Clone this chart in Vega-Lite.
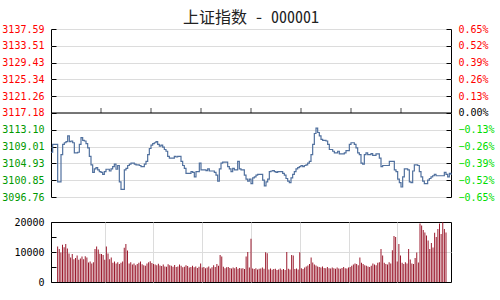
{
"$schema": "https://vega.github.io/schema/vega-lite/v6.json",
"padding": {"left": 1, "top": 9, "right": 0, "bottom": 0},
"bounds": "flush",
"spacing": 25,
"title": {"text": "上证指数 - 000001", "font": "Noto Sans Mono CJK SC, Noto Sans CJK SC", "fontSize": 16, "fontWeight": "normal", "color": "#222222", "anchor": "middle", "frame": "group", "offset": -2},
"config": {"view": {"stroke": "#000000", "strokeWidth": 1}, "axis": {"labelFont": "DejaVu Sans Mono", "labelFontSize": 10, "gridColor": "#dcdcdc", "domain": false, "title": null, "labelFlush": false, "labelOverlap": false}},
"data": {"values": [
{"t":0,"p":3107.64},{"t":1,"p":3109.54,"v":11800},{"t":2,"p":3109.54,"v":11000},{"t":3,"p":3109.54,"v":9800},{"t":4,"p":3100.43,"v":12400},{"t":5,"p":3100.43,"v":11600},{"t":6,"p":3107.06,"v":12700},{"t":7,"p":3109.54,"v":11200},{"t":8,"p":3109.95,"v":9500},{"t":9,"p":3110.20,"v":8200},{"t":10,"p":3111.61,"v":9300},
{"t":11,"p":3110.20,"v":7600},{"t":12,"p":3110.37,"v":8000},{"t":13,"p":3109.95,"v":8800},{"t":14,"p":3107.47,"v":7400},{"t":15,"p":3107.47,"v":7800},{"t":16,"p":3107.64,"v":8500},{"t":17,"p":3109.54,"v":7600},{"t":18,"p":3111.20,"v":8600},{"t":19,"p":3110.53,"v":8200},{"t":20,"p":3110.37,"v":6500},
{"t":21,"p":3109.71,"v":6800},{"t":22,"p":3108.71,"v":6200},{"t":23,"p":3106.64,"v":6600},{"t":24,"p":3104.57,"v":11000},{"t":25,"p":3102.75,"v":11800},{"t":26,"p":3103.58,"v":10800},{"t":27,"p":3103.91,"v":9400},{"t":28,"p":3103.33,"v":9300},{"t":29,"p":3102.92,"v":9000},{"t":30,"p":3102.75,"v":7400},
{"t":31,"p":3102.25,"v":11800},{"t":32,"p":3102.92,"v":9500},{"t":33,"p":3103.50,"v":7600},{"t":34,"p":3103.50,"v":8200},{"t":35,"p":3103.08,"v":6400},{"t":36,"p":3103.58,"v":6800},{"t":37,"p":3104.16,"v":6200},{"t":38,"p":3104.74,"v":6600},{"t":39,"p":3103.50,"v":6000},{"t":40,"p":3104.41,"v":6400},
{"t":41,"p":3100.43,"v":6800},{"t":42,"p":3098.61,"v":11400},{"t":43,"p":3098.61,"v":12700},{"t":44,"p":3103.33,"v":10500},{"t":45,"p":3103.74,"v":6200},{"t":46,"p":3104.41,"v":6600},{"t":47,"p":3104.74,"v":5800},{"t":48,"p":3104.99,"v":6200},{"t":49,"p":3104.99,"v":5600},{"t":50,"p":3104.74,"v":6000},
{"t":51,"p":3104.57,"v":6400},{"t":52,"p":3104.57,"v":6800},{"t":53,"p":3104.41,"v":5900},{"t":54,"p":3104.16,"v":5600},{"t":55,"p":3104.16,"v":5400},{"t":56,"p":3104.74,"v":6200},{"t":57,"p":3105.40,"v":6600},{"t":58,"p":3107.06,"v":6900},{"t":59,"p":3108.55,"v":6300},{"t":60,"p":3109.37,"v":6000},
{"t":61,"p":3109.71,"v":5800},{"t":62,"p":3109.95,"v":5600},{"t":63,"p":3110.20,"v":6100},{"t":64,"p":3109.54,"v":5500},{"t":65,"p":3109.13,"v":5300},{"t":66,"p":3109.37,"v":5800},{"t":67,"p":3108.88,"v":5200},{"t":68,"p":3108.30,"v":5100},{"t":69,"p":3107.88,"v":5900},{"t":70,"p":3106.64,"v":5600},
{"t":71,"p":3106.23,"v":5400},{"t":72,"p":3106.23,"v":5100},{"t":73,"p":3106.23,"v":5700},{"t":74,"p":3106.64,"v":5000},{"t":75,"p":3106.48,"v":5200},{"t":76,"p":3106.64,"v":5800},{"t":77,"p":3106.64,"v":5400},{"t":78,"p":3105.40,"v":4900},{"t":79,"p":3104.41,"v":5100},{"t":80,"p":3103.74,"v":5600},
{"t":81,"p":3102.50,"v":5300},{"t":82,"p":3102.50,"v":4800},{"t":83,"p":3102.50,"v":5000},{"t":84,"p":3102.92,"v":5400},{"t":85,"p":3102.75,"v":4900},{"t":86,"p":3101.67,"v":5200},{"t":87,"p":3102.92,"v":4700},{"t":88,"p":3102.92,"v":5100},{"t":89,"p":3104.99,"v":6200},{"t":90,"p":3103.33,"v":4800},
{"t":91,"p":3103.33,"v":5000},{"t":92,"p":3103.33,"v":4600},{"t":93,"p":3103.16,"v":4800},{"t":94,"p":3103.58,"v":5200},{"t":95,"p":3103.08,"v":4500},{"t":96,"p":3103.08,"v":4900},{"t":97,"p":3103.08,"v":5600},{"t":98,"p":3102.75,"v":5000},{"t":99,"p":3102.09,"v":6000},{"t":100,"p":3100.60,"v":5400},
{"t":101,"p":3103.58,"v":9000},{"t":102,"p":3104.99,"v":8500},{"t":103,"p":3105.23,"v":5100},{"t":104,"p":3105.23,"v":4600},{"t":105,"p":3105.23,"v":4900},{"t":106,"p":3104.16,"v":5000},{"t":107,"p":3103.58,"v":4700},{"t":108,"p":3102.92,"v":4500},{"t":109,"p":3103.74,"v":4800},{"t":110,"p":3103.33,"v":4600},
{"t":111,"p":3103.33,"v":5000},{"t":112,"p":3105.40,"v":4400},{"t":113,"p":3103.58,"v":4700},{"t":114,"p":3103.33,"v":4500},{"t":115,"p":3103.33,"v":4600},{"t":116,"p":3102.09,"v":4300},{"t":117,"p":3101.09,"v":8500},{"t":118,"p":3100.60,"v":10000},{"t":119,"p":3101.09,"v":4800},{"t":120,"p":3100.02,"v":14400},
{"t":121,"p":3101.43,"v":4500},{"t":122,"p":3101.67,"v":4300},{"t":123,"p":3102.09,"v":4600},{"t":124,"p":3102.25,"v":4200},{"t":125,"p":3102.25,"v":4400},{"t":126,"p":3102.25,"v":4500},{"t":127,"p":3100.85,"v":4800},{"t":128,"p":3099.44,"v":4400},{"t":129,"p":3100.43,"v":9900},{"t":130,"p":3101.09,"v":9600},
{"t":131,"p":3102.92,"v":4200},{"t":132,"p":3103.08,"v":4500},{"t":133,"p":3103.16,"v":4100},{"t":134,"p":3102.92,"v":4300},{"t":135,"p":3102.75,"v":4400},{"t":136,"p":3102.92,"v":4000},{"t":137,"p":3102.92,"v":4200},{"t":138,"p":3102.92,"v":4500},{"t":139,"p":3102.50,"v":4100},{"t":140,"p":3102.09,"v":4300},
{"t":141,"p":3101.26,"v":4000},{"t":142,"p":3100.60,"v":10000},{"t":143,"p":3100.27,"v":4400},{"t":144,"p":3101.43,"v":4200},{"t":145,"p":3102.25,"v":9000},{"t":146,"p":3102.92,"v":8800},{"t":147,"p":3103.58,"v":4300},{"t":148,"p":3103.91,"v":4500},{"t":149,"p":3104.16,"v":4200},{"t":150,"p":3104.41,"v":9900},
{"t":151,"p":3104.16,"v":4600},{"t":152,"p":3104.41,"v":4300},{"t":153,"p":3104.57,"v":4800},{"t":154,"p":3104.99,"v":5200},{"t":155,"p":3105.40,"v":5500},{"t":156,"p":3107.06,"v":6000},{"t":157,"p":3109.54,"v":8200},{"t":158,"p":3112.19,"v":6500},{"t":159,"p":3113.51,"v":5800},{"t":160,"p":3112.44,"v":5500},
{"t":161,"p":3111.61,"v":5200},{"t":162,"p":3110.78,"v":5000},{"t":163,"p":3110.53,"v":4800},{"t":164,"p":3110.53,"v":5200},{"t":165,"p":3110.37,"v":4700},{"t":166,"p":3109.54,"v":4600},{"t":167,"p":3108.30,"v":5000},{"t":168,"p":3108.30,"v":4600},{"t":169,"p":3107.88,"v":4500},{"t":170,"p":3107.47,"v":4800},
{"t":171,"p":3107.47,"v":4600},{"t":172,"p":3107.88,"v":4400},{"t":173,"p":3107.22,"v":4800},{"t":174,"p":3107.22,"v":4500},{"t":175,"p":3107.22,"v":4400},{"t":176,"p":3107.47,"v":4700},{"t":177,"p":3108.05,"v":5000},{"t":178,"p":3108.05,"v":4600},{"t":179,"p":3109.54,"v":4500},{"t":180,"p":3109.95,"v":4800},
{"t":181,"p":3109.95,"v":5000},{"t":182,"p":3109.54,"v":5400},{"t":183,"p":3108.71,"v":5800},{"t":184,"p":3107.47,"v":6200},{"t":185,"p":3107.06,"v":6000},{"t":186,"p":3104.99,"v":5600},{"t":187,"p":3104.74,"v":8200},{"t":188,"p":3107.06,"v":6400},{"t":189,"p":3107.47,"v":6000},{"t":190,"p":3107.06,"v":5600},
{"t":191,"p":3107.06,"v":5400},{"t":192,"p":3107.30,"v":5200},{"t":193,"p":3106.89,"v":5000},{"t":194,"p":3106.89,"v":5400},{"t":195,"p":3107.22,"v":6200},{"t":196,"p":3107.22,"v":5800},{"t":197,"p":3106.23,"v":5600},{"t":198,"p":3104.16,"v":6400},{"t":199,"p":3104.41,"v":6600},{"t":200,"p":3104.41,"v":11000},
{"t":201,"p":3104.41,"v":8800},{"t":202,"p":3104.41,"v":6400},{"t":203,"p":3105.40,"v":6000},{"t":204,"p":3105.40,"v":5800},{"t":205,"p":3105.40,"v":6600},{"t":206,"p":3103.33,"v":6200},{"t":207,"p":3102.92,"v":10600},{"t":208,"p":3101.09,"v":15300},{"t":209,"p":3100.27,"v":15000},{"t":210,"p":3099.19,"v":6800},
{"t":211,"p":3101.67,"v":12700},{"t":212,"p":3103.58,"v":8800},{"t":213,"p":3103.58,"v":6400},{"t":214,"p":3103.33,"v":6000},{"t":215,"p":3100.43,"v":6600},{"t":216,"p":3100.27,"v":6200},{"t":217,"p":3103.08,"v":11000},{"t":218,"p":3104.57,"v":7500},{"t":219,"p":3104.57,"v":6200},{"t":220,"p":3104.41,"v":6000},
{"t":221,"p":3102.92,"v":8000},{"t":222,"p":3101.67,"v":9800},{"t":223,"p":3100.60,"v":6500},{"t":224,"p":3100.02,"v":19500},{"t":225,"p":3100.02,"v":18800},{"t":226,"p":3100.85,"v":17300},{"t":227,"p":3101.26,"v":16500},{"t":228,"p":3101.67,"v":15500},{"t":229,"p":3101.92,"v":13800},{"t":230,"p":3102.25,"v":11000},
{"t":231,"p":3101.92,"v":13000},{"t":232,"p":3101.92,"v":11500},{"t":233,"p":3101.92,"v":16400},{"t":234,"p":3101.92,"v":15000},{"t":235,"p":3101.92,"v":17700},{"t":236,"p":3102.75,"v":19500},{"t":237,"p":3102.25,"v":16000},{"t":238,"p":3101.67,"v":19900},{"t":239,"p":3102.50,"v":17700},{"t":240,"p":3102.09,"v":16500}
]},
"vconcat": [
{
"width": 400, "height": 168,
"layer": [
{"mark": {"type": "line", "interpolate": "step-after", "color": "#50709e", "strokeWidth": 1.2},
 "encoding": {
  "x": {"field": "t", "type": "quantitative", "scale": {"domain": [0, 240], "nice": false, "zero": false},
        "axis": {"values": [0,30,60,90,120,150,180,210,240], "grid": true, "ticks": false, "labelPadding": 8, "labelColor": "#000000",
                 "labelExpr": "datum.value == 0 ? '09:30' : datum.value == 60 ? '10:30' : datum.value == 120 ? '11:30/13:00' : datum.value == 180 ? '14:00' : datum.value == 240 ? '15:00' : ''"}},
  "y": {"field": "p", "type": "quantitative", "scale": {"domain": [3096.76, 3137.59], "zero": false, "nice": false},
        "axis": {"orient": "left", "values": [3096.76,3100.85,3104.93,3109.01,3113.10,3117.18,3121.26,3125.34,3129.43,3133.51,3137.59], "grid": true, "tickSize": -5, "tickColor": "#000000", "labelPadding": 12, "format": ".2f",
                 "labelColor": {"condition": {"test": "datum.value >= 3117", "value": "#ff0000"}, "value": "#009900"}}}
 }},
{"data": {"values": [{"b": 3117.18}]},
 "mark": {"type": "rule", "color": "#000000", "strokeWidth": 1},
 "encoding": {
  "y": {"field": "b", "type": "quantitative",
        "axis": {"orient": "right", "values": [3096.76,3100.85,3104.93,3109.01,3113.10,3117.18,3121.26,3125.34,3129.43,3133.51,3137.59], "grid": false, "tickSize": -5, "tickColor": "#000000", "labelPadding": 12,
                 "labelExpr": "format(round((datum.value - 3117.18) / 4.083) * 0.13, '.2f') + '%'",
                 "labelColor": {"condition": [{"test": "datum.value > 3117.5", "value": "#ff0000"}, {"test": "datum.value > 3116.9", "value": "#000000"}], "value": "#00dd00"}}}
 }},
{"data": {"values": [{"m": 30, "b": 3117.18}, {"m": 60, "b": 3117.18}, {"m": 90, "b": 3117.18}, {"m": 120, "b": 3117.18}, {"m": 150, "b": 3117.18}, {"m": 180, "b": 3117.18}, {"m": 210, "b": 3117.18}]},
 "mark": {"type": "tick", "orient": "vertical", "color": "#000000", "size": 5, "thickness": 1, "yOffset": -2.5},
 "encoding": {"x": {"field": "m", "type": "quantitative", "axis": null}, "y": {"field": "b", "type": "quantitative", "axis": null}}}
],
"resolve": {"axis": {"y": "independent"}}
},
{
"width": 400, "height": 60,
"mark": {"type": "bar", "color": "#9b1b2e", "width": 1},
"encoding": {
 "x": {"field": "t", "type": "quantitative", "scale": {"domain": [0, 240], "nice": false, "zero": false},
       "axis": {"values": [30,60,90,120,150,180,210], "grid": true, "ticks": false, "labels": false}},
 "y": {"field": "v", "type": "quantitative", "scale": {"domain": [0, 20000], "nice": false},
       "axis": {"values": [0,5000,10000,15000,20000], "grid": true, "tickSize": -5, "tickColor": "#000000", "labelPadding": 12, "labelColor": "#000000",
                "labelExpr": "datum.value % 10000 == 0 ? '' + datum.value : ''",
                "gridOpacity": {"condition": {"test": "datum.value == 10000", "value": 1}, "value": 0}}}
}
}
]
}
